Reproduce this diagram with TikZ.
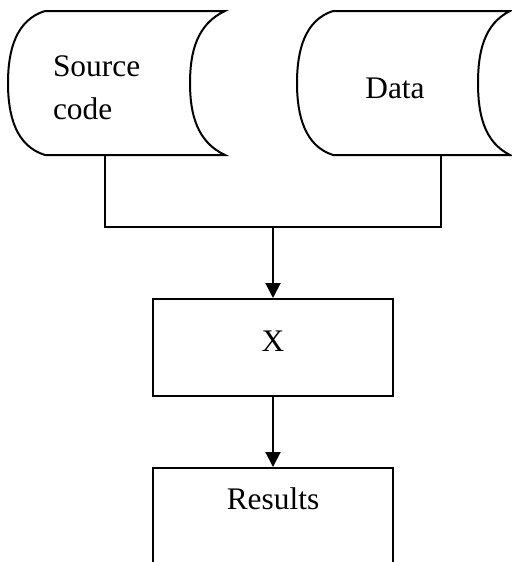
\documentclass[tikz,border=0pt]{standalone}
\usepackage{fontspec}
\setmainfont{Liberation Serif}
\usepackage{tikz}
\usetikzlibrary{arrows.meta}

\begin{document}
\begin{tikzpicture}[x=0.5pt,y=-0.5pt,line width=1pt,
  font=\fontsize{15.7}{21.5}\selectfont,
  procbox/.style={draw,minimum width=120pt,inner sep=0pt},
  flow/.style={-{Triangle[width=7.5pt,length=7.5pt]}}]
\useasboundingbox (0,0) rectangle (511,562);

% stored data shapes
\draw (45,11) -- (225,11) .. controls (197,24) and (190,52) .. (190,83)
  .. controls (190,114) and (197,142) .. (225,155) -- (45,155)
  .. controls (16,146) and (8,116) .. (8,83)
  .. controls (8,50) and (16,20) .. (45,11);
\draw (333,11) -- (510,11) .. controls (484,24) and (478,52) .. (478,83)
  .. controls (478,114) and (484,142) .. (510,155) -- (333,155)
  .. controls (305,146) and (297,116) .. (297,83)
  .. controls (297,50) and (305,20) .. (333,11);

\node[align=left,anchor=west,inner sep=0pt] (src) at (52,88) {Source\\code};
\node[inner sep=0pt] (data) at (395,88) {Data};

\coordinate (srcfoot) at (105,155);
\coordinate (datafoot) at (441,155);
\coordinate (srcbend) at (105,227);
\coordinate (databend) at (441,227);
\coordinate (join) at (273,227);

\node[procbox,minimum height=48.5pt,text depth=6pt,anchor=north] (x) at (273,298) {X};
\node[procbox,minimum height=70pt,anchor=north] (res) at (273,467) {};
\node (restext) at (273,499) {Results};

\draw (srcfoot) -- (srcbend) -- (databend) -- (datafoot);
\draw[flow] (join) -- (x.north);
\draw[flow] (x.south) -- (res.north);
\end{tikzpicture}
\end{document}
